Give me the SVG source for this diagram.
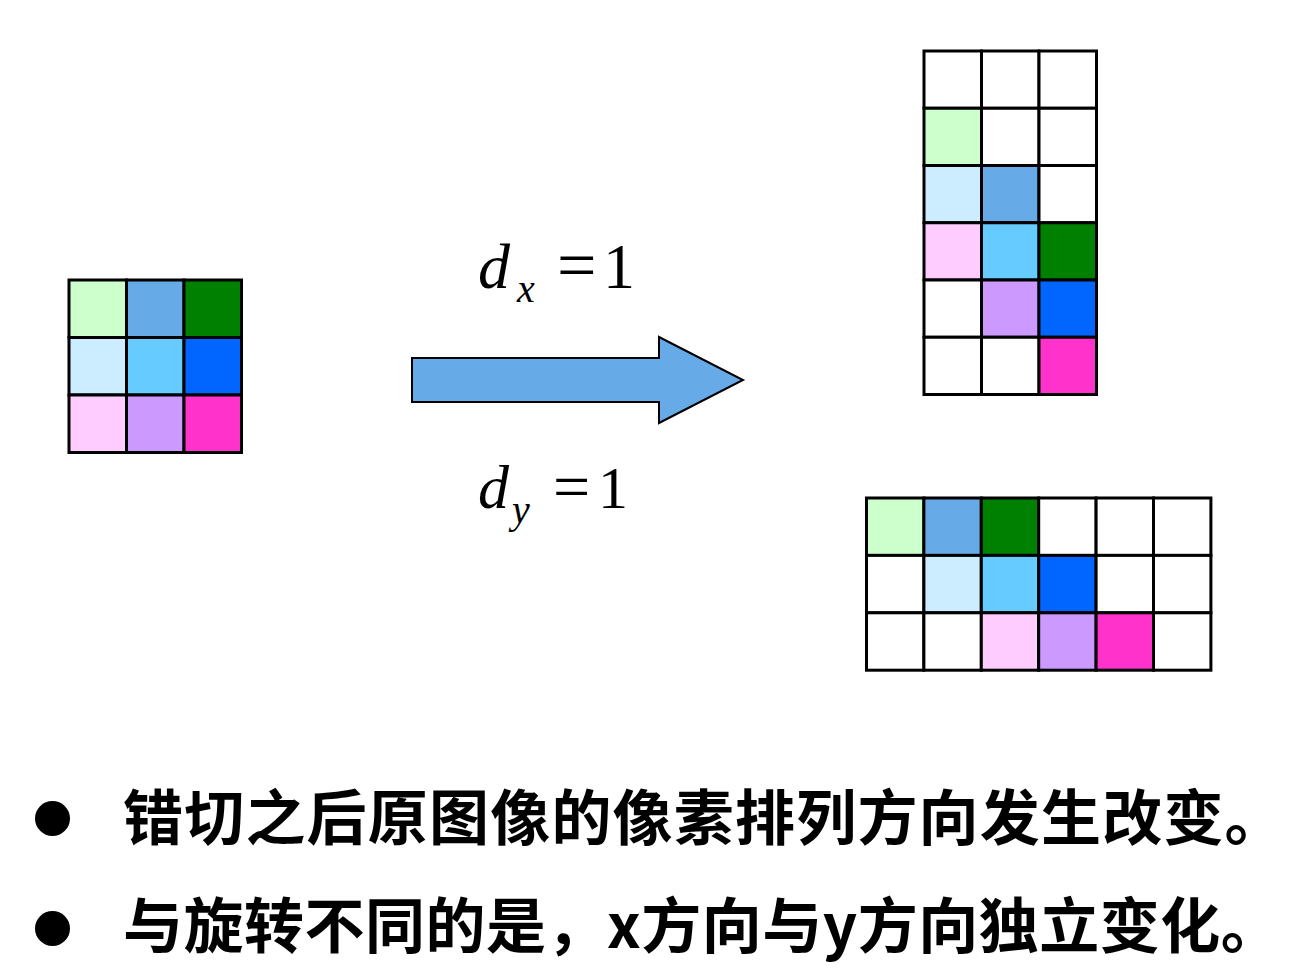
<svg xmlns="http://www.w3.org/2000/svg" width="1308" height="972" viewBox="0 0 1308 972">
<style>
.c{stroke:#000;stroke-width:3}
.w{fill:#fff}.lg{fill:#CCFFCC}.mb{fill:#66AAE8}.g{fill:#008000}
.lb{fill:#CCECFF}.sk{fill:#66CCFF}.b{fill:#0066FF}
.pk{fill:#FFCCFF}.lv{fill:#CC99FF}.mg{fill:#FF33CC}
.m{font-family:"Liberation Serif","Times New Roman",serif;fill:#000}
.i{font-style:italic}
.t{font-family:"Noto Sans CJK SC","Noto Sans",sans-serif;font-weight:bold;font-size:60px;letter-spacing:1.2px;fill:#000}
</style>
<rect width="1308" height="972" fill="#fff"/>
<g id="source-grid">
<rect class="c lg" x="69" y="280" width="57.5" height="57.5"/>
<rect class="c mb" x="126.5" y="280" width="57.5" height="57.5"/>
<rect class="c g" x="184" y="280" width="57.5" height="57.5"/>
<rect class="c lb" x="69" y="337.5" width="57.5" height="57.5"/>
<rect class="c sk" x="126.5" y="337.5" width="57.5" height="57.5"/>
<rect class="c b" x="184" y="337.5" width="57.5" height="57.5"/>
<rect class="c pk" x="69" y="395" width="57.5" height="57.5"/>
<rect class="c lv" x="126.5" y="395" width="57.5" height="57.5"/>
<rect class="c mg" x="184" y="395" width="57.5" height="57.5"/>
</g>
<g id="connectors">
<polygon points="412,358 659,358 659,337 743,380 659,423 659,402 412,402" fill="#66AAE8" stroke="#000" stroke-width="2"/>
</g>
<g id="label-dx">
<text class="m i" x="478" y="288" font-size="64">d</text>
<text class="m i" x="517" y="302" font-size="40">x</text>
<text class="m" x="557" y="289" font-size="70">=</text>
<text class="m" x="603" y="288" font-size="64">1</text>
</g>
<g id="label-dy">
<text class="m i" x="478" y="508" font-size="62">d</text>
<text class="m i" x="512" y="523" font-size="40">y</text>
<text class="m" x="553" y="509" font-size="66">=</text>
<text class="m" x="598" y="508" font-size="60">1</text>
</g>
<g id="shear-x-grid">
<rect class="c w" x="924" y="51" width="57.5" height="57.25"/>
<rect class="c w" x="981.5" y="51" width="57.5" height="57.25"/>
<rect class="c w" x="1039" y="51" width="57.5" height="57.25"/>
<rect class="c lg" x="924" y="108.25" width="57.5" height="57.25"/>
<rect class="c w" x="981.5" y="108.25" width="57.5" height="57.25"/>
<rect class="c w" x="1039" y="108.25" width="57.5" height="57.25"/>
<rect class="c lb" x="924" y="165.5" width="57.5" height="57.25"/>
<rect class="c mb" x="981.5" y="165.5" width="57.5" height="57.25"/>
<rect class="c w" x="1039" y="165.5" width="57.5" height="57.25"/>
<rect class="c pk" x="924" y="222.75" width="57.5" height="57.25"/>
<rect class="c sk" x="981.5" y="222.75" width="57.5" height="57.25"/>
<rect class="c g" x="1039" y="222.75" width="57.5" height="57.25"/>
<rect class="c w" x="924" y="280" width="57.5" height="57.25"/>
<rect class="c lv" x="981.5" y="280" width="57.5" height="57.25"/>
<rect class="c b" x="1039" y="280" width="57.5" height="57.25"/>
<rect class="c w" x="924" y="337.25" width="57.5" height="57.25"/>
<rect class="c w" x="981.5" y="337.25" width="57.5" height="57.25"/>
<rect class="c mg" x="1039" y="337.25" width="57.5" height="57.25"/>
</g>
<g id="shear-y-grid">
<rect class="c lg" x="866.5" y="498" width="57.4" height="57.4"/>
<rect class="c mb" x="923.9" y="498" width="57.4" height="57.4"/>
<rect class="c g" x="981.3" y="498" width="57.4" height="57.4"/>
<rect class="c w" x="1038.7" y="498" width="57.4" height="57.4"/>
<rect class="c w" x="1096.1" y="498" width="57.4" height="57.4"/>
<rect class="c w" x="1153.5" y="498" width="57.4" height="57.4"/>
<rect class="c w" x="866.5" y="555.4" width="57.4" height="57.4"/>
<rect class="c lb" x="923.9" y="555.4" width="57.4" height="57.4"/>
<rect class="c sk" x="981.3" y="555.4" width="57.4" height="57.4"/>
<rect class="c b" x="1038.7" y="555.4" width="57.4" height="57.4"/>
<rect class="c w" x="1096.1" y="555.4" width="57.4" height="57.4"/>
<rect class="c w" x="1153.5" y="555.4" width="57.4" height="57.4"/>
<rect class="c w" x="866.5" y="612.8" width="57.4" height="57.4"/>
<rect class="c w" x="923.9" y="612.8" width="57.4" height="57.4"/>
<rect class="c pk" x="981.3" y="612.8" width="57.4" height="57.4"/>
<rect class="c lv" x="1038.7" y="612.8" width="57.4" height="57.4"/>
<rect class="c mg" x="1096.1" y="612.8" width="57.4" height="57.4"/>
<rect class="c w" x="1153.5" y="612.8" width="57.4" height="57.4"/>
</g>
<g id="bullet-1">
<circle cx="52.5" cy="818.5" r="17.5" fill="#000"/>
<text class="t" x="123" y="840">错切之后原图像的像素排列方向发生改变。</text>
</g>
<g id="bullet-2">
<circle cx="52.5" cy="928.5" r="17.5" fill="#000"/>
<text class="t" x="123" y="948" style="letter-spacing:0.5px">与旋转不同的是，x方向与y方向独立变化。</text>
</g>
</svg>
